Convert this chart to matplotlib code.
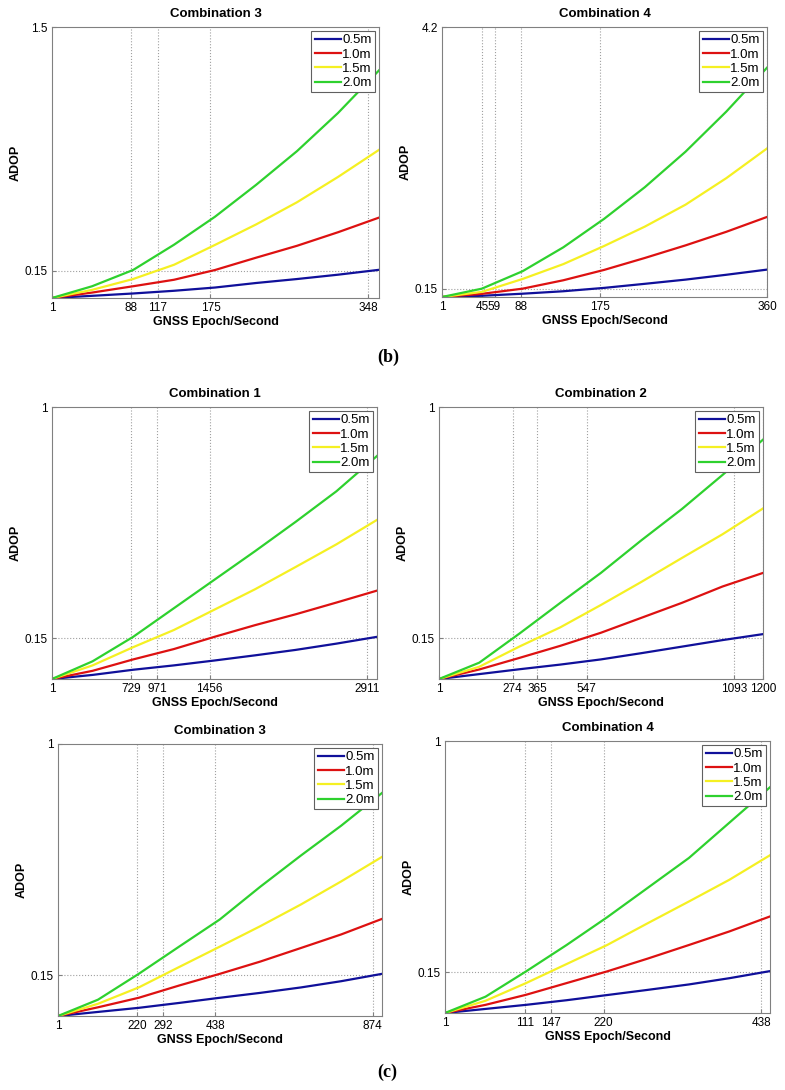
import numpy as np
import matplotlib
matplotlib.use("Agg")
import matplotlib.pyplot as plt

plt.rcParams['font.family'] = ['Liberation Sans', 'DejaVu Sans']

labels = ['0.5m', '1.0m', '1.5m', '2.0m']
colors = ['#10109a', '#dd1111', '#f5f022', '#2ed12e']

# (b) Combination 3
b3_x = [1, 45, 90, 135, 180, 225, 270, 315, 360]
b3_blue = [0.0, 0.012, 0.025, 0.04, 0.058, 0.083, 0.105, 0.129, 0.156]
b3_red = [0.0, 0.03, 0.065, 0.101, 0.155, 0.223, 0.289, 0.364, 0.445]
b3_yellow = [0.0, 0.045, 0.105, 0.184, 0.294, 0.407, 0.53, 0.67, 0.82]
b3_green = [0.0, 0.065, 0.155, 0.295, 0.45, 0.626, 0.813, 1.024, 1.26]
b3_ticks = [1, 88, 117, 175, 348]

# (b) Combination 4
b4_x = [1, 45, 90, 135, 180, 225, 270, 315, 360]
b4_blue = [0.021, 0.04, 0.072, 0.11, 0.162, 0.225, 0.29, 0.365, 0.445]
b4_red = [0.021, 0.07, 0.15, 0.28, 0.44, 0.625, 0.82, 1.03, 1.26]
b4_yellow = [0.021, 0.10, 0.30, 0.53, 0.81, 1.11, 1.45, 1.86, 2.32]
b4_green = [0.021, 0.15, 0.42, 0.79, 1.23, 1.72, 2.27, 2.89, 3.57]
b4_ticks = [1, 45, 59, 88, 175, 360]

# (c) Combination 1
c1_x = [1, 375, 750, 1125, 1500, 1875, 2250, 2625, 3000]
c1_blue = [0.0, 0.015, 0.034, 0.05, 0.068, 0.087, 0.107, 0.13, 0.155]
c1_red = [0.0, 0.03, 0.072, 0.11, 0.155, 0.198, 0.238, 0.281, 0.325]
c1_yellow = [0.0, 0.05, 0.117, 0.18, 0.255, 0.33, 0.412, 0.495, 0.585]
c1_green = [0.0, 0.065, 0.155, 0.26, 0.365, 0.47, 0.578, 0.69, 0.82]
c1_ticks = [1, 729, 971, 1456, 2911]

# (c) Combination 2
c2_x = [1, 150, 300, 450, 600, 750, 900, 1050, 1200]
c2_blue = [0.0, 0.018, 0.036, 0.053, 0.072, 0.095, 0.119, 0.143, 0.165]
c2_red = [0.0, 0.035, 0.078, 0.122, 0.17, 0.225, 0.28, 0.34, 0.39]
c2_yellow = [0.0, 0.045, 0.12, 0.19, 0.272, 0.357, 0.445, 0.532, 0.627]
c2_green = [0.0, 0.06, 0.168, 0.28, 0.39, 0.51, 0.625, 0.75, 0.88]
c2_ticks = [1, 274, 365, 547, 1093, 1200]

# (c) Combination 3
c3_x = [1, 112, 225, 337, 450, 562, 675, 787, 900]
c3_blue = [0.0, 0.015, 0.03, 0.048, 0.067, 0.085, 0.105, 0.128, 0.155]
c3_red = [0.0, 0.032, 0.067, 0.112, 0.155, 0.2, 0.25, 0.30, 0.357]
c3_yellow = [0.0, 0.045, 0.105, 0.18, 0.255, 0.33, 0.41, 0.495, 0.585]
c3_green = [0.0, 0.06, 0.155, 0.255, 0.355, 0.475, 0.59, 0.70, 0.82]
c3_ticks = [1, 220, 292, 438, 874]

# (c) Combination 4
c4_x = [1, 57, 113, 169, 225, 281, 338, 394, 450]
c4_blue = [0.0, 0.015, 0.03, 0.047, 0.066, 0.085, 0.105, 0.128, 0.154]
c4_red = [0.0, 0.03, 0.067, 0.11, 0.153, 0.2, 0.25, 0.30, 0.355]
c4_yellow = [0.0, 0.045, 0.11, 0.18, 0.25, 0.33, 0.41, 0.49, 0.58]
c4_green = [0.0, 0.06, 0.153, 0.25, 0.352, 0.46, 0.57, 0.70, 0.83]
c4_ticks = [1, 111, 147, 220, 438]

W, H = 785, 1090
fig = plt.figure(figsize=(W / 100, H / 100), dpi=100)


def make_axes(l, r, t, b):
    return fig.add_axes([l / W, (H - b) / H, (r - l) / W, (b - t) / H])


panels = [
    ("Combination 3", (52, 379, 27, 298), b3_x, [b3_blue, b3_red, b3_yellow, b3_green], b3_ticks, (1, 360), (0.0, 1.5), '1.5'),
    ("Combination 4", (442, 767, 27, 297), b4_x, [b4_blue, b4_red, b4_yellow, b4_green], b4_ticks, (1, 360), (0.021, 4.2), '4.2'),
    ("Combination 1", (52, 377, 407, 679), c1_x, [c1_blue, c1_red, c1_yellow, c1_green], c1_ticks, (1, 3000), (0.0, 1.0), '1'),
    ("Combination 2", (439, 763, 407, 679), c2_x, [c2_blue, c2_red, c2_yellow, c2_green], c2_ticks, (1, 1200), (0.0, 1.0), '1'),
    ("Combination 3", (58, 382, 744, 1016), c3_x, [c3_blue, c3_red, c3_yellow, c3_green], c3_ticks, (1, 900), (0.0, 1.0), '1'),
    ("Combination 4", (445, 770, 741, 1013), c4_x, [c4_blue, c4_red, c4_yellow, c4_green], c4_ticks, (1, 450), (0.0, 1.0), '1'),
]

for title, box, xs, series, ticks, xlim, ylim, toplabel in panels:
    ax = make_axes(*box)
    for ys, c, lab in zip(series, colors, labels):
        ax.plot(xs, ys, color=c, lw=1.6, label=lab, solid_joinstyle='round')
    ax.set_xlim(*xlim)
    ax.set_ylim(*ylim)
    ax.set_xticks(ticks)
    ax.set_xticklabels([str(t) for t in ticks])
    ax.set_yticks([0.15, ylim[1]])
    ax.set_yticklabels(['0.15', toplabel])
    for t in ticks[1:]:
        ax.axvline(t, color='#a0a0a0', ls=':', lw=0.8, zorder=0)
    ax.axhline(0.15, color='#a0a0a0', ls=':', lw=0.8, zorder=0)
    ax.tick_params(direction='in', length=3, labelsize=8.5, pad=3, color='#808080')
    for s in ax.spines.values():
        s.set_color('#808080')
        s.set_linewidth(0.8)
    ax.set_title(title, fontsize=9.5, fontweight='bold', pad=7)
    ax.set_xlabel('GNSS Epoch/Second', fontsize=9, fontweight='bold', labelpad=1.5)
    ax.set_ylabel('ADOP', fontsize=9, fontweight='bold', labelpad=2)
    leg = ax.legend(loc='upper right', fontsize=9.5, fancybox=False, framealpha=1,
                    edgecolor='#606060', handlelength=2.0, handletextpad=0.1,
                    labelspacing=0.15, borderpad=0.25, borderaxespad=0.3)
    leg.get_frame().set_linewidth(0.8)

fig.text(388 / W, 1 - 357 / H, '(b)', fontsize=13, fontweight='bold',
         family=['Liberation Serif', 'DejaVu Serif'], ha='center', va='center')
fig.text(387 / W, 1 - 1072 / H, '(c)', fontsize=13, fontweight='bold',
         family=['Liberation Serif', 'DejaVu Serif'], ha='center', va='center')

fig.savefig('out.png', dpi=100)
